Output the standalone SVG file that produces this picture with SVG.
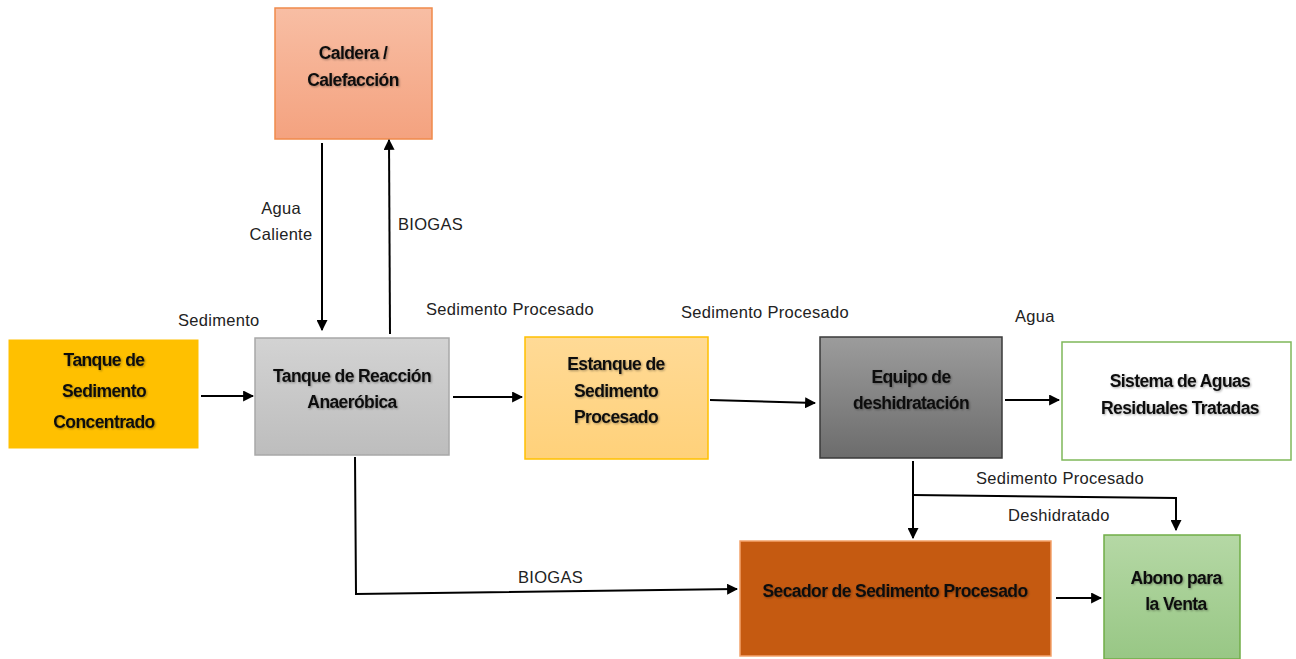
<svg xmlns="http://www.w3.org/2000/svg" width="1296" height="659" viewBox="0 0 1296 659">
<style>
.lbl{font-family:"Liberation Sans",Arial,sans-serif;font-size:16.5px;fill:#222;letter-spacing:0.3px}
.bt{font-family:"Liberation Sans",Arial,sans-serif;font-size:17.5px;font-weight:bold;fill:#111;text-anchor:middle;letter-spacing:-0.6px;filter:url(#sh)}
.ln{stroke:#000;stroke-width:2;fill:none}
</style>
<defs>
<marker id="ah" viewBox="0 0 10 10" refX="9" refY="5" markerWidth="5.5" markerHeight="5.5" orient="auto" markerUnits="strokeWidth">
<path d="M0,0 L10,5 L0,10 z" fill="#000"/>
</marker>
<linearGradient id="gCal" x1="0" y1="0" x2="0" y2="1"><stop offset="0" stop-color="#F8BEA4"/><stop offset="1" stop-color="#F4A27F"/></linearGradient>
<linearGradient id="gRea" x1="0" y1="0" x2="0" y2="1"><stop offset="0" stop-color="#D3D3D3"/><stop offset="1" stop-color="#BDBDBD"/></linearGradient>
<linearGradient id="gEst" x1="0" y1="0" x2="0" y2="1"><stop offset="0" stop-color="#FFDA96"/><stop offset="1" stop-color="#FFD17A"/></linearGradient>
<linearGradient id="gEq" x1="0" y1="0" x2="0" y2="1"><stop offset="0" stop-color="#9C9C9C"/><stop offset="1" stop-color="#6C6C6C"/></linearGradient>
<linearGradient id="gAb" x1="0" y1="0" x2="0" y2="1"><stop offset="0" stop-color="#B5D8A5"/><stop offset="1" stop-color="#98C785"/></linearGradient>
<filter id="sh" x="-10%" y="-30%" width="120%" height="160%"><feDropShadow dx="1" dy="1" stdDeviation="0.8" flood-color="#000" flood-opacity="0.35"/></filter>
</defs>

<g id="caldera">
<rect x="275" y="8" width="157" height="131" fill="url(#gCal)" stroke="#F08A4B" stroke-width="1.5"/>
<text class="bt" x="353" y="59">Caldera /</text>
<text class="bt" x="353" y="86">Calefacción</text>
</g>
<g id="tanque-sedimento">
<rect x="9" y="340" width="189" height="108" fill="#FFC000" stroke="#FFC000"/>
<text class="bt" x="104" y="366">Tanque de</text>
<text class="bt" x="104" y="397">Sedimento</text>
<text class="bt" x="104" y="428">Concentrado</text>
</g>
<g id="tanque-reaccion">
<rect x="255" y="338" width="194" height="117" fill="url(#gRea)" stroke="#A8A8A8" stroke-width="1.5"/>
<text class="bt" x="352" y="382">Tanque de Reacción</text>
<text class="bt" x="352" y="408">Anaeróbica</text>
</g>
<g id="estanque">
<rect x="525" y="337" width="183" height="122" fill="url(#gEst)" stroke="#FFC000" stroke-width="1.5"/>
<text class="bt" x="616" y="370">Estanque de</text>
<text class="bt" x="616" y="397">Sedimento</text>
<text class="bt" x="616" y="423">Procesado</text>
</g>
<g id="equipo">
<rect x="820" y="337" width="182" height="121" fill="url(#gEq)" stroke="#3A3A3A" stroke-width="1.5"/>
<text class="bt" x="911" y="383">Equipo de</text>
<text class="bt" x="911" y="409">deshidratación</text>
</g>
<g id="sistema">
<rect x="1062" y="342" width="229" height="118" fill="#FFFFFF" stroke="#7FB85A" stroke-width="1.5"/>
<text class="bt" x="1180" y="387">Sistema de Aguas</text>
<text class="bt" x="1180" y="414">Residuales Tratadas</text>
</g>
<g id="secador">
<rect x="740" y="541" width="311" height="115" fill="#C55A11" stroke="#F4A26B" stroke-width="1.5"/>
<text class="bt" x="895" y="597">Secador de Sedimento Procesado</text>
</g>
<g id="abono">
<rect x="1104" y="535" width="136" height="124" fill="url(#gAb)" stroke="#70AD47" stroke-width="1.5"/>
<text class="bt" x="1176" y="584">Abono para</text>
<text class="bt" x="1176" y="610">la Venta</text>
</g>

<g id="connectors">
<line class="ln" x1="201" y1="396" x2="253" y2="396" marker-end="url(#ah)"/>
<line class="ln" x1="322" y1="143" x2="322" y2="330" marker-end="url(#ah)"/>
<line class="ln" x1="390" y1="334" x2="389" y2="140" marker-end="url(#ah)"/>
<line class="ln" x1="453" y1="397" x2="522" y2="397" marker-end="url(#ah)"/>
<line class="ln" x1="710" y1="400" x2="815" y2="403" marker-end="url(#ah)"/>
<line class="ln" x1="1005" y1="400" x2="1059" y2="400" marker-end="url(#ah)"/>
<line class="ln" x1="913" y1="461" x2="913" y2="538" marker-end="url(#ah)"/>
<polyline class="ln" points="913,495 1176,498 1176,530" marker-end="url(#ah)"/>
<polyline class="ln" points="355,457 356,594 737,589" marker-end="url(#ah)"/>
<line class="ln" x1="1056" y1="598" x2="1101" y2="598" marker-end="url(#ah)"/>
</g>

<g id="labels">
<text class="lbl" x="178" y="326">Sedimento</text>
<text class="lbl" x="281" y="214" text-anchor="middle">Agua</text>
<text class="lbl" x="281" y="240" text-anchor="middle">Caliente</text>
<text class="lbl" x="398" y="230">BIOGAS</text>
<text class="lbl" x="426" y="315">Sedimento Procesado</text>
<text class="lbl" x="681" y="318">Sedimento Procesado</text>
<text class="lbl" x="1015" y="322">Agua</text>
<text class="lbl" x="976" y="484">Sedimento Procesado</text>
<text class="lbl" x="1008" y="521">Deshidratado</text>
<text class="lbl" x="518" y="583">BIOGAS</text>
</g>
</svg>
